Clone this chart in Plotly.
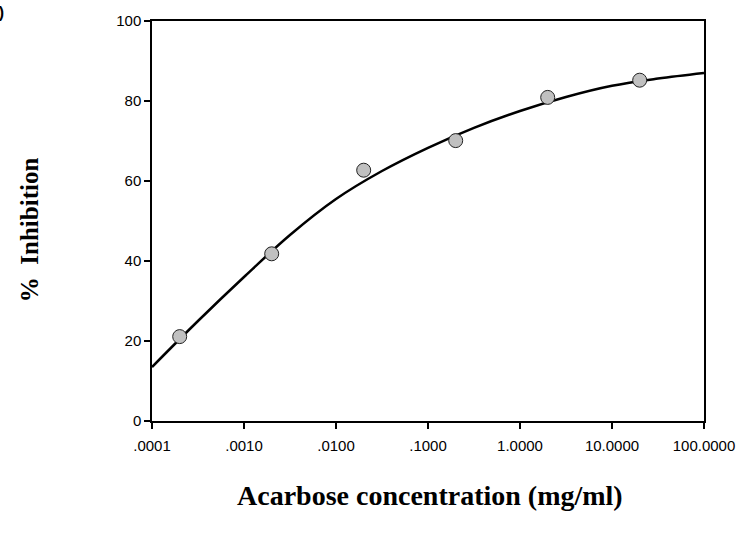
import plotly.graph_objects as go

# measured data points
conc = [0.0002, 0.002, 0.02, 0.2, 2, 20]
inhibition = [21.1, 41.8, 62.7, 70.1, 80.9, 85.2]

# fitted curve at half-decade steps
curve_x = [0.0001, 0.000316, 0.001, 0.00316, 0.01, 0.0316, 0.1, 0.316, 1.0, 3.16, 10.0, 31.6, 100.0]
curve_y = [13.5, 25.0, 36.0, 46.5, 55.5, 62.5, 68.3, 73.3, 77.5, 81.0, 83.8, 85.6, 87.0]

x_tickvals = [0.0001, 0.001, 0.01, 0.1, 1, 10, 100]
x_ticktext = [".0001", ".0010", ".0100", ".1000", "1.0000", "10.0000", "100.0000"]
y_tickvals = [0, 20, 40, 60, 80, 100]

fig = go.Figure()
fig.add_trace(go.Scatter(x=curve_x, y=curve_y, mode="lines",
                         line=dict(color="black", width=2.5, shape="spline"),
                         hoverinfo="skip", showlegend=False))
fig.add_trace(go.Scatter(x=conc, y=inhibition, mode="markers",
                         marker=dict(size=14, color="#c0c0c0",
                                     line=dict(color="#222222", width=1)),
                         showlegend=False))

axis_common = dict(showgrid=False, zeroline=False, showline=True, linecolor="black",
                   linewidth=1.5, mirror=True, ticks="outside", ticklen=6,
                   tickcolor="black", tickwidth=1.5,
                   tickfont=dict(family="Liberation Sans, Arial", size=15, color="black"))

fig.update_layout(
    width=747, height=540,
    margin=dict(l=152, r=35, t=18, b=119),
    paper_bgcolor="white", plot_bgcolor="white",
    xaxis=dict(type="log", range=[-4, 2], tickvals=x_tickvals, ticktext=x_ticktext,
               ticklabelstandoff=4, **axis_common),
    yaxis=dict(range=[0, 100], tickvals=y_tickvals, **axis_common),
    annotations=[
        dict(text="<b>Acarbose concentration (mg/ml)</b>", xref="paper", yref="paper",
             x=0.5036, y=-0.186, xanchor="center", yanchor="middle", showarrow=False,
             font=dict(family="Liberation Serif, Times New Roman", size=28, color="black")),
        dict(text="<b>%  Inhibition</b>", xref="paper", yref="paper", textangle=-90,
             x=-0.2214, y=0.479, xanchor="center", yanchor="middle", showarrow=False,
             font=dict(family="Liberation Serif, Times New Roman", size=25, color="black")),
        dict(text="<b>b)</b>", xref="paper", yref="paper", x=-0.264, y=1.02,
             xanchor="right", yanchor="middle", showarrow=False,
             font=dict(family="Liberation Sans, Arial", size=16, color="black")),
    ],
)

fig.write_html("out.html")
